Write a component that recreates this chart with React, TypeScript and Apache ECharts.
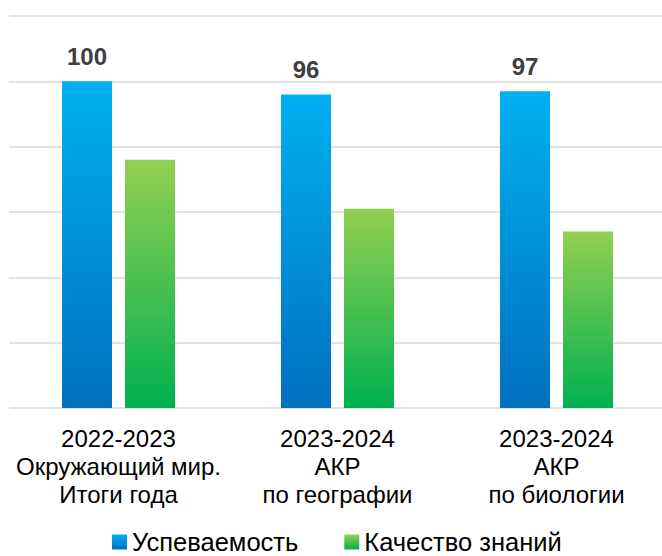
import React, { useEffect, useRef } from "react";
import * as echarts from "echarts";

const categories = [
  "2022-2023\nОкружающий мир.\nИтоги года",
  "2023-2024\nАКР\nпо географии",
  "2023-2024\nАКР\nпо биологии",
];
const seriesNames = ["Успеваемость", "Качество знаний"];
const uspevaemost = [100, 96, 97];
const kachestvo = [76, 61, 54];

const blueGrad = () =>
  new echarts.graphic.LinearGradient(0, 0, 0, 1, [
    { offset: 0, color: "#00B0F0" },
    { offset: 1, color: "#0070C0" },
  ]);
const greenGrad = () =>
  new echarts.graphic.LinearGradient(0, 0, 0, 1, [
    { offset: 0, color: "#92D050" },
    { offset: 1, color: "#00B050" },
  ]);

export default function App() {
  const ref = useRef<HTMLDivElement>(null);
  useEffect(() => {
    const chart = echarts.init(ref.current!, null, { renderer: "svg" });
    const font = "Arial, 'Liberation Sans', sans-serif";
    chart.setOption({
      animation: false,
      grid: { left: 9, top: 16, width: 657, height: 392, containLabel: false },
      legend: {
        top: 529,
        left: 112,
        padding: 0,
        itemWidth: 15,
        itemHeight: 15,
        itemGap: 46,
        icon: "rect",
        textStyle: { fontFamily: font, fontSize: 25.5, lineHeight: 22, color: "#000", padding: [0, 0, 0, 0] },
        data: seriesNames,
      },
      xAxis: {
        type: "category",
        data: categories,
        axisLine: { show: false },
        axisTick: { show: false },
        axisLabel: {
          interval: 0,
          fontFamily: font,
          fontSize: 24,
          color: "#000",
          lineHeight: 28,
          margin: 16,
        },
      },
      yAxis: {
        type: "value",
        min: 0,
        max: 120,
        interval: 20,
        axisLabel: { show: false },
        axisLine: { show: false },
        axisTick: { show: false },
        splitLine: { lineStyle: { color: "#d9d9d9", width: 1.5 } },
      },
      series: [
        {
          name: seriesNames[0],
          type: "bar",
          data: uspevaemost,
          barWidth: 50,
          barGap: "26%",
          itemStyle: { color: blueGrad() },
          label: {
            show: true,
            position: "top",
            distance: 13,
            fontFamily: font,
            fontSize: 24,
            fontWeight: "bold",
            color: "#404040",
          },
        },
        {
          name: seriesNames[1],
          type: "bar",
          data: kachestvo,
          barWidth: 50,
          itemStyle: { color: greenGrad() },
        },
      ],
    });
    return () => chart.dispose();
  }, []);
  return (
    <div style={{ position: "absolute", left: 0, top: 0, width: 662, height: 556, overflow: "hidden" }}>
      <div ref={ref} style={{ width: 680, height: 556 }} />
    </div>
  );
}
